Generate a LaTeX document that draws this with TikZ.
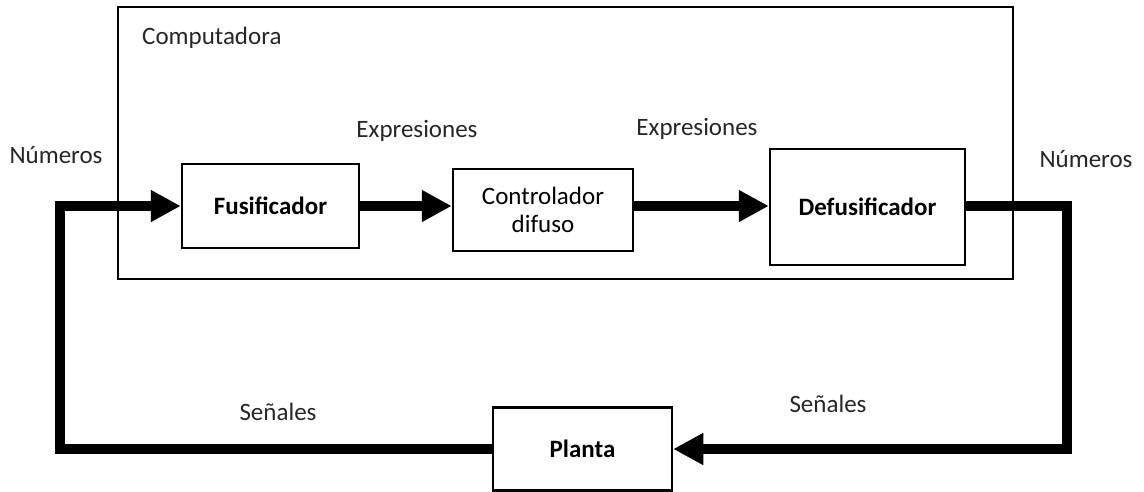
\documentclass[tikz,border=0pt]{standalone}
\usepackage{fontspec}
\setmainfont{Carlito}
\usetikzlibrary{arrows.meta}
\tikzset{
  lbl/.style={font=\fontsize{25}{29}\selectfont, text=black!85, inner sep=0pt},
  blk/.style={draw, line width=2.5pt, inner sep=0pt, align=center,
              font=\fontsize{25}{29}\selectfont\bfseries},
  flow/.style={line width=10pt, -{Triangle[length=30pt,width=30pt]}}
}
\begin{document}
\begin{tikzpicture}[x=1pt,y=-1pt]
\useasboundingbox (0,0) rectangle (1144,491);
% outer box
\node[draw, line width=2.5pt, minimum width=895pt, minimum height=272pt, inner sep=0pt] (comp) at (565.5,143) {};
\node[lbl, anchor=west] (tcomp) at (142,38) {Computadora};
% blocks
\node[blk, minimum width=177pt, minimum height=84pt] (fus) at (270.5,206) {Fusificador};
\node[blk, minimum width=180pt, minimum height=82pt, font=\fontsize{25}{28}\selectfont] (ctrl) at (543,210) {Controlador\\difuso};
\node[blk, minimum width=195pt, minimum height=116pt] (defus) at (867.5,207) {Defusificador};
\node[blk, minimum width=179pt, minimum height=83pt] (planta) at (582.5,449) {Planta};
% labels
\node[lbl] (n1) at (56,155) {Números};
\node[lbl] (e1) at (417,131) {Expresiones};
\node[lbl] (e2) at (697,129) {Expresiones};
\node[lbl] (n2) at (1086,159) {Números};
\node[lbl] (s1) at (278,412) {Señales};
\node[lbl] (s2) at (828,404) {Señales};
% feedback corner coordinates
\coordinate (fl) at (60,206);
\coordinate (fr) at (1067,206);
% connectors
\draw[flow] (fus.east |- fl) -- (ctrl.west |- fl);
\draw[flow] (ctrl.east |- fl) -- (defus.west |- fl);
\draw[flow] (defus.east |- fr) -- (fr) |- (planta.east);
\draw[flow] (planta.west) -| (fl) -- (fus.west |- fl);
\end{tikzpicture}
\end{document}
